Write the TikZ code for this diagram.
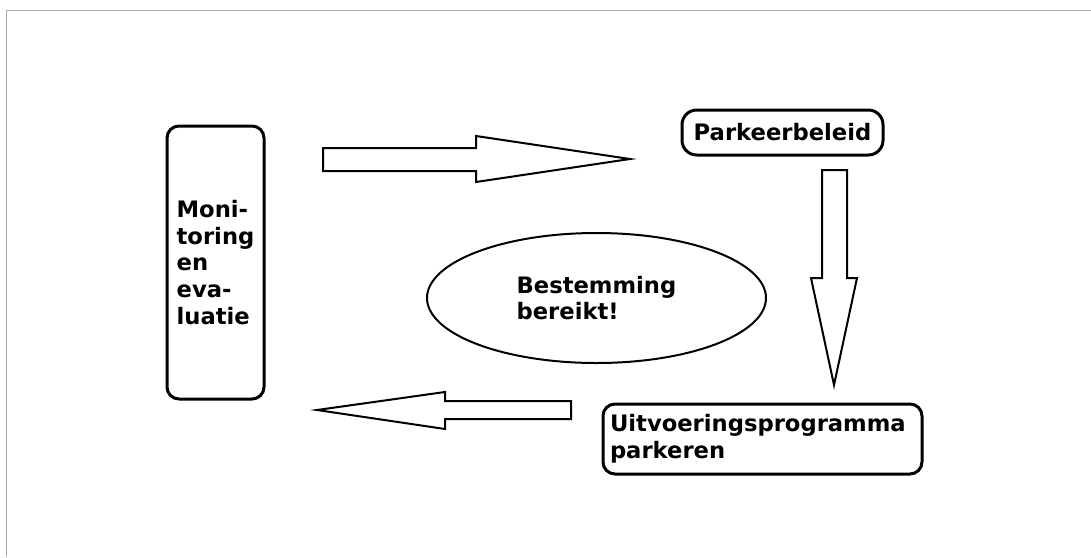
\documentclass[tikz,border=0pt]{standalone}
\usepackage{fontspec}
\setmainfont{DejaVu Sans}
\usepackage{tikz}
\usepackage{xcolor}
\usetikzlibrary{shapes.geometric}
\tikzstyle{every node}=[font=\fontsize{17pt}{20pt}\selectfont\bfseries]
\tikzstyle{block} = [rectangle, draw, line width=2.25pt, rounded corners=9pt, inner ysep=0pt]
\tikzstyle{goal} = [ellipse, draw, line width=1.5pt, inner sep=0pt, align=left]
\tikzstyle{fatarrow} = [draw, line width=1.5pt, line join=miter, fill=white]
\tikzstyle{frame} = [draw, gray!65, line width=1.2pt]

\begin{document}
\begin{tikzpicture}[x=0.75pt, y=-0.75pt]
    \useasboundingbox (0,0) rectangle (1091,557);
    \path [frame] (1091,10.5) -- (6.5,10.5) -- (6.5,557);
    % Place nodes
    \node [block, minimum width=72.75pt, minimum height=204.75pt, inner xsep=0pt, align=left] (monitor) at (215.5,262.5) {Moni-\\toring\\en\\eva-\\luatie};
    \node [block, rounded corners=11pt, minimum width=150.75pt, minimum height=33.75pt] (beleid) at (782.5,132.5) {Parkeerbeleid};
    \node [block, minimum width=239.25pt, minimum height=52.5pt, inner xsep=5.25pt, text width=228.75pt, align=left] (uitvoering) at (762.5,439) {Uitvoeringsprogramma\\parkeren};
    \node [goal, minimum width=254.25pt, minimum height=97.5pt] (doel) at (596.5,298) {Bestemming\\bereikt!};
    % Draw arrows
    \path [fatarrow] (323,148) -- (476,148) -- (476,136) -- (630,159) -- (476,182) -- (476,171) -- (323,171) -- cycle;
    \path [fatarrow] (822,170) -- (847,170) -- (847,278) -- (857,278) -- (834,385) -- (811,278) -- (822,278) -- cycle;
    \path [fatarrow] (571,401) -- (445,401) -- (445,392) -- (317,410) -- (445,429) -- (445,419) -- (571,419) -- cycle;
\end{tikzpicture}
\end{document}
